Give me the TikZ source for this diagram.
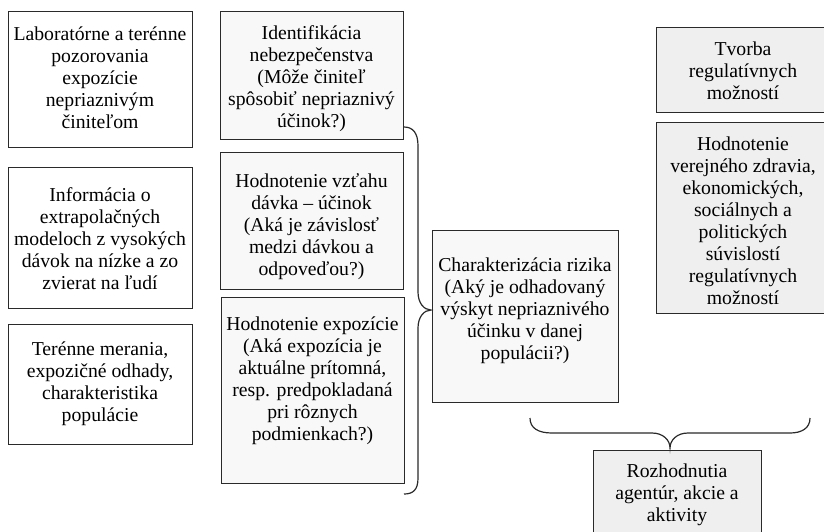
\documentclass[tikz,border=0pt]{standalone}
\usepackage{fontspec}
\setmainfont{Liberation Serif}
\definecolor{midfill}{HTML}{F8F8F8}
\definecolor{rightfill}{HTML}{EFEFEF}
\definecolor{edge}{HTML}{2A2A2A}
\begin{document}
\begin{tikzpicture}[x=1pt,y=-1pt,
  box/.style={draw=edge,line width=1.4pt,inner sep=0pt,anchor=north west},
  txt/.style={align=center,font=\fontsize{19.7}{22}\selectfont,inner sep=0pt},
  brace/.style={draw=edge,line width=1.2pt}]
\useasboundingbox (0,0) rectangle (824,531);
\begin{scope}
\clip (0,0) rectangle (824,531);
% left column
\node[box,fill=white,minimum width=184pt,minimum height=136pt] (l1) at (8,11) {};
\node[txt] (l1t) at (100,78) {Laboratórne a terénne\\pozorovania\\expozície\\nepriaznivým\\činiteľom};
\node[box,fill=white,minimum width=184pt,minimum height=141pt] (l2) at (8,167) {};
\node[txt] (l2t) at (100,239) {Informácia o\\extrapolačných\\modeloch z vysokých\\dávok na nízke a zo\\zvierat na ľudí};
\node[box,fill=white,minimum width=184pt,minimum height=120pt] (l3) at (8,324) {};
\node[txt] (l3t) at (100,384) {Terénne merania,\\expozičné odhady,\\charakteristika\\populácie};
% middle column
\node[box,fill=midfill,minimum width=183pt,minimum height=128pt] (m1) at (220,11) {};
\node[txt] (m1t) at (311.5,79) {Identifikácia\\nebezpečenstva\\(Môže činiteľ\\spôsobiť nepriaznivý\\účinok?)};
\node[box,fill=midfill,minimum width=183pt,minimum height=137pt] (m2) at (220,152) {};
\node[txt] (m2t) at (311.5,227) {Hodnotenie vzťahu\\dávka – účinok\\(Aká je závislosť\\medzi dávkou a\\odpoveďou?)};
\node[box,fill=midfill,minimum width=183pt,minimum height=186pt] (m3) at (221,297) {};
\node[txt] (m3t) at (312.5,381) {Hodnotenie expozície\\(Aká expozícia je\\aktuálne prítomná,\\resp. predpokladaná\\pri rôznych\\podmienkach?)};
% characterization
\node[box,fill=midfill,minimum width=186pt,minimum height=172pt] (ch) at (432,230) {};
\node[txt] (cht) at (525,311) {Charakterizácia rizika\\(Aký je odhadovaný\\výskyt nepriaznivého\\účinku v danej\\populácii?)};
% right column
\node[box,fill=rightfill,minimum width=180pt,minimum height=85pt] (r1) at (656,27) {};
\node[txt] (r1t) at (743,71) {Tvorba\\regulatívnych\\možností};
\node[box,fill=rightfill,minimum width=180pt,minimum height=191pt] (r2) at (656,122) {};
\node[txt] (r2t) at (743,221) {Hodnotenie\\verejného zdravia,\\ekonomických,\\sociálnych a\\politických\\súvislostí\\regulatívnych\\možností};
% decision
\node[box,fill=rightfill,minimum width=168pt,minimum height=120pt] (rd) at (593,450) {};
\node[txt] (rdt) at (677,495) {Rozhodnutia\\agentúr, akcie a\\aktivity};
\end{scope}
% left brace
\coordinate (bt) at (404,127);
\coordinate (bb) at (404,494);
\coordinate (btip) at (431,310);
\draw[brace] (bt) .. controls (413,127) and (418,133) .. (418,146)
  -- (418,292) .. controls (418,303) and (424,310) .. (btip)
  .. controls (424,310) and (418,317) .. (418,328)
  -- (418,478) .. controls (418,490) and (413,494) .. (bb);
% bottom brace
\coordinate (ct) at (530,418);
\coordinate (ce) at (810,418);
\coordinate (ctip) at (670,448);
\draw[brace] (ct) .. controls (530,428) and (538,433) .. (552,433)
  -- (652,433) .. controls (663,433) and (670,440) .. (ctip)
  .. controls (670,440) and (677,433) .. (688,433)
  -- (790,433) .. controls (802,433) and (810,428) .. (ce);
\end{tikzpicture}
\end{document}
